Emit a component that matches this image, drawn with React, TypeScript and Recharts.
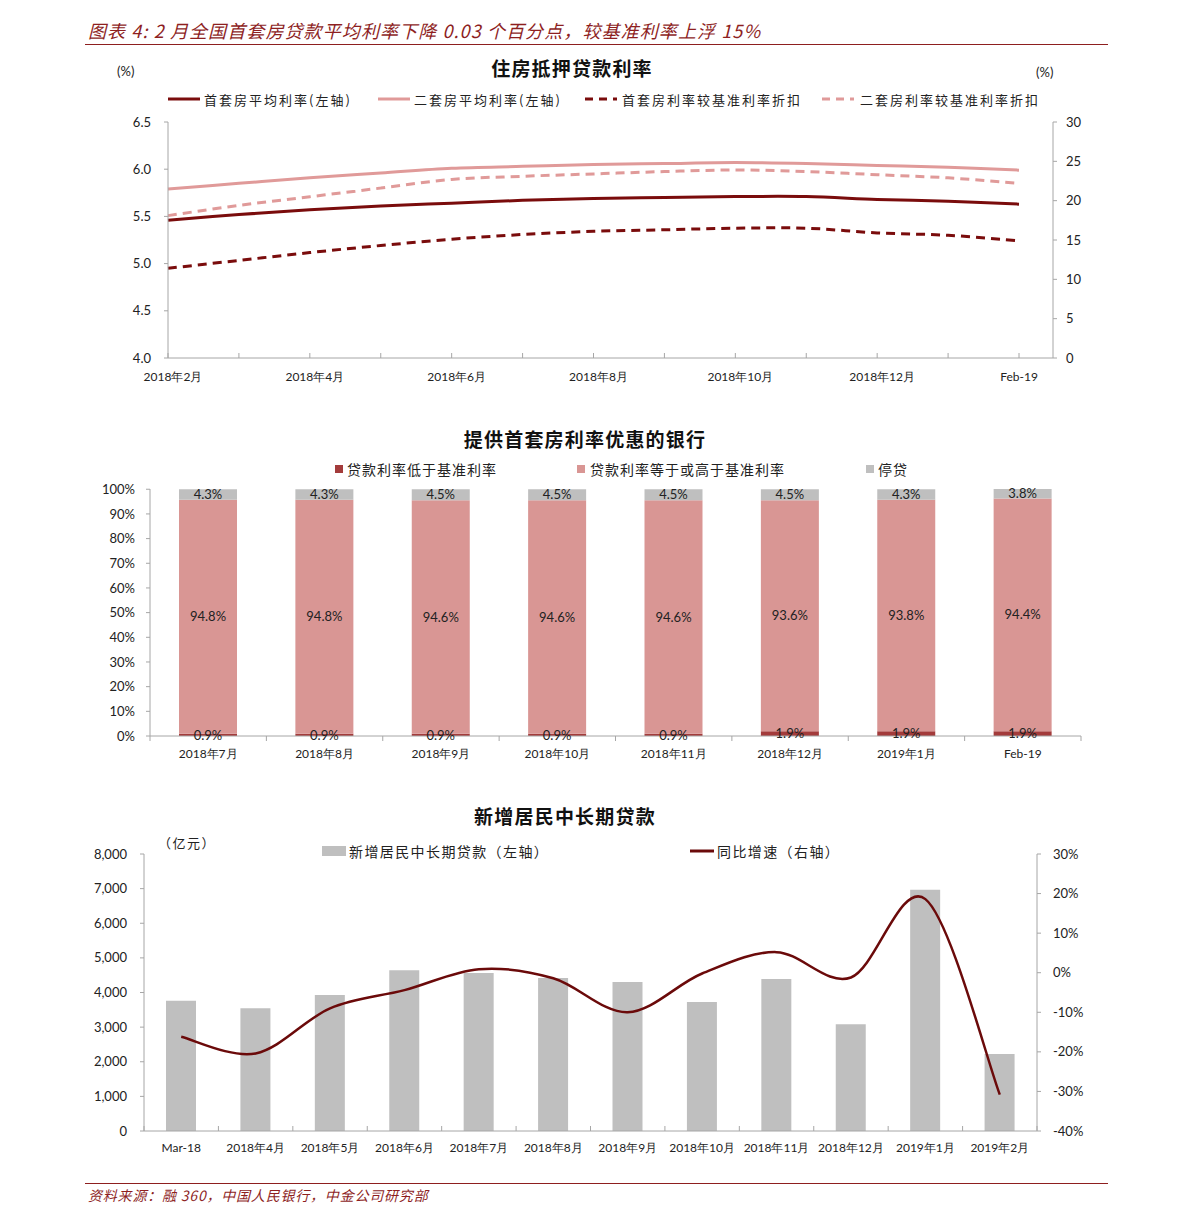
import React from 'react'
import { ComposedChart, Line, Bar, XAxis, YAxis, LabelList } from 'recharts'

// 住房抵押贷款利率
const rateMonths = ['2018年2月', '2018年3月', '2018年4月', '2018年5月', '2018年6月', '2018年7月', '2018年8月', '2018年9月', '2018年10月', '2018年11月', '2018年12月', '2019年1月', 'Feb-19']
const firstAvg = [5.46, 5.52, 5.57, 5.61, 5.64, 5.67, 5.69, 5.70, 5.71, 5.71, 5.68, 5.66, 5.63]
const secondAvg = [5.79, 5.85, 5.91, 5.96, 6.01, 6.03, 6.05, 6.06, 6.07, 6.06, 6.04, 6.02, 5.99]
const firstDisc = [11.4, 12.4, 13.4, 14.3, 15.1, 15.7, 16.1, 16.3, 16.5, 16.5, 15.9, 15.6, 14.9]
const secondDisc = [18.1, 19.4, 20.5, 21.6, 22.7, 23.1, 23.4, 23.7, 23.9, 23.7, 23.3, 22.9, 22.2]
const rateLeftTicks = [4.0, 4.5, 5.0, 5.5, 6.0, 6.5]
const rateRightTicks = [0, 5, 10, 15, 20, 25, 30]

// 提供首套房利率优惠的银行
const bankMonths = ['2018年7月', '2018年8月', '2018年9月', '2018年10月', '2018年11月', '2018年12月', '2019年1月', 'Feb-19']
const belowBase = [0.9, 0.9, 0.9, 0.9, 0.9, 1.9, 1.9, 1.9]
const atOrAbove = [94.8, 94.8, 94.6, 94.6, 94.6, 93.6, 93.8, 94.4]
const suspended = [4.3, 4.3, 4.5, 4.5, 4.5, 4.5, 4.3, 3.8]
const pctTicks = [0, 10, 20, 30, 40, 50, 60, 70, 80, 90, 100]

// 新增居民中长期贷款
const loanMonths = ['Mar-18', '2018年4月', '2018年5月', '2018年6月', '2018年7月', '2018年8月', '2018年9月', '2018年10月', '2018年11月', '2018年12月', '2019年1月', '2019年2月']
const newLoans = [3760, 3545, 3930, 4640, 4565, 4420, 4305, 3725, 4390, 3080, 6970, 2225]
const loanYoY = [-16.2, -20.4, -9.0, -4.4, 0.9, -1.4, -10.0, -0.2, 5.2, -1.2, 18.6, -30.8]
const loanLeftTicks = [0, 1000, 2000, 3000, 4000, 5000, 6000, 7000, 8000]
const loanRightTicks = [-40, -30, -20, -10, 0, 10, 20, 30]

const rateData = rateMonths.map((m, i) => ({ m, firstAvg: firstAvg[i], secondAvg: secondAvg[i], firstDisc: firstDisc[i], secondDisc: secondDisc[i] }))
const bankData = bankMonths.map((m, i) => ({ m, below: belowBase[i], above: atOrAbove[i], stop: suspended[i] }))
const loanData = loanMonths.map((m, i) => ({ m, loans: newLoans[i], yoy: loanYoY[i] }))

const DARK = '#7a0c0c'
const LIGHT = '#e09a99'
const AXIS = '#a6a6a6'
const MAROON = '#8e1f1f'
const NUM_FONT = 'Lato, "Liberation Sans", sans-serif'
const CJK_FONT = '"Noto Sans CJK SC", "Noto Sans", sans-serif'

// Excel-like smoothed line (cardinal spline through the points)
function smoothCurve(context: any) {
    let pts: [number, number][] = []
    return {
        areaStart() {},
        areaEnd() {},
        lineStart() { pts = [] },
        lineEnd() {
            if (!pts.length) return
            context.moveTo(pts[0][0], pts[0][1])
            for (let i = 0; i < pts.length - 1; i++) {
                const p0 = pts[i - 1] || pts[i]
                const p1 = pts[i]
                const p2 = pts[i + 1]
                const p3 = pts[i + 2] || p2
                context.bezierCurveTo(
                    p1[0] + (p2[0] - p0[0]) / 6, p1[1] + (p2[1] - p0[1]) / 6,
                    p2[0] - (p3[0] - p1[0]) / 6, p2[1] - (p3[1] - p1[1]) / 6,
                    p2[0], p2[1],
                )
            }
        },
        point(x: number, y: number) { pts.push([x, y]) },
    }
}

function Txt({ x, y, children, center, size = 13, bold, italic, color = '#222', font = CJK_FONT, ls = 0 }: any) {
    return (
        <div style={{
            position: 'absolute', left: x, top: y, transform: `translate(${center ? '-50%' : '0'}, -50%)`,
            fontSize: size, fontWeight: bold ? 700 : 400, fontStyle: italic ? 'italic' : 'normal',
            color, fontFamily: font, whiteSpace: 'nowrap', lineHeight: 1, letterSpacing: ls,
        }}>{children}</div>
    )
}

function LineKey({ x, y, color, dashed, w = 32 }: any) {
    return (
        <svg style={{ position: 'absolute', left: x, top: y - 3 }} width={w} height={6}>
            <line x1={0} y1={3} x2={w} y2={3} stroke={color} strokeWidth={3} strokeDasharray={dashed ? '8 6' : undefined} />
        </svg>
    )
}

function Square({ x, y, color, w = 8, h = 8 }: any) {
    return <div style={{ position: 'absolute', left: x, top: y - h / 2, width: w, height: h, background: color }} />
}

const tickStyle = { fontSize: 13, fill: '#222', fontFamily: NUM_FONT }

// chart 1 x ticks: every month gets an inward tick mark, every other month a label
function RateTick(props: any) {
    const { x, y, payload, index } = props
    return (
        <g>
            <line x1={x} y1={y} x2={x} y2={y - 5} stroke={AXIS} />
            {index % 2 === 0 && (
                <text x={index === 12 ? x : x + 5} y={y} dy={23} textAnchor="middle" fontSize={12} fill="#222" fontFamily={NUM_FONT}>{payload.value}</text>
            )}
        </g>
    )
}

function makeBandTick(half: number, count: number, dy: number, up: boolean) {
    return function BandTick(props: any) {
        const { x, y, payload, index } = props
        const y2 = up ? y - 5 : y + 5
        return (
            <g>
                <line x1={x - half} y1={y} x2={x - half} y2={y2} stroke={AXIS} />
                {index === count - 1 && <line x1={x + half} y1={y} x2={x + half} y2={y2} stroke={AXIS} />}
                <text x={x} y={y} dy={dy} textAnchor="middle" fontSize={12} fill="#222" fontFamily={NUM_FONT}>{payload.value}</text>
            </g>
        )
    }
}

const BankTick = makeBandTick(931 / 16, bankMonths.length, 22, false)
const LoanTick = makeBandTick(893 / 24, loanMonths.length, 21, true)

const pctLabel = (v: any) => `${Number(v).toFixed(1)}%`

export default function App() {
    return (
        <div style={{ position: 'absolute', left: 0, top: 0, width: 1191, height: 1225, background: '#fff', overflow: 'hidden' }}>
            {/* header */}
            <Txt x={88} y={30} size={18} italic color={MAROON} ls={1.1}>图表 4: 2 月全国首套房贷款平均利率下降 0.03 个百分点，较基准利率上浮 15%</Txt>
            <div style={{ position: 'absolute', left: 85, top: 44, width: 1023, height: 1, background: MAROON }} />

            {/* chart 1 */}
            <Txt x={572} y={67} size={19} bold center color="#111" ls={1.2}>住房抵押贷款利率</Txt>
            <Txt x={117} y={71} size={13} font={NUM_FONT}>(%)</Txt>
            <Txt x={1036} y={72} size={13} font={NUM_FONT}>(%)</Txt>
            <LineKey x={168} y={99} color={DARK} />
            <Txt x={204} y={99} size={13} ls={2}>首套房平均利率(左轴)</Txt>
            <LineKey x={378} y={99} color={LIGHT} />
            <Txt x={414} y={99} size={13} ls={2}>二套房平均利率(左轴)</Txt>
            <LineKey x={585} y={99} color={DARK} dashed />
            <Txt x={622} y={99} size={13} ls={2}>首套房利率较基准利率折扣</Txt>
            <LineKey x={822} y={99} color={LIGHT} dashed />
            <Txt x={860} y={99} size={13} ls={2}>二套房利率较基准利率折扣</Txt>
            <div style={{ position: 'absolute', left: 0, top: 110 }}>
                <ComposedChart width={1191} height={300} data={rateData} margin={{ top: 12, right: 0, bottom: 0, left: 0 }}>
                    <XAxis dataKey="m" scale="point" padding={{ left: 0, right: 34 }} height={52} interval={0}
                        tickLine={false} tickSize={0} tickMargin={0} axisLine={{ stroke: AXIS }} tick={<RateTick />} />
                    <YAxis yAxisId="l" width={168} domain={[4, 6.5]} ticks={rateLeftTicks} tickFormatter={(v: number) => v.toFixed(1)}
                        tick={tickStyle} tickSize={4} tickMargin={13} axisLine={{ stroke: AXIS }} tickLine={{ stroke: AXIS }} />
                    <YAxis yAxisId="r" orientation="right" width={138} domain={[0, 30]} ticks={rateRightTicks}
                        tick={tickStyle} tickSize={4} tickMargin={9} axisLine={{ stroke: AXIS }} tickLine={{ stroke: AXIS }} />
                    <Line yAxisId="r" dataKey="secondDisc" type={smoothCurve as any} stroke={LIGHT} strokeWidth={3} strokeDasharray="9 6" dot={false} isAnimationActive={false} />
                    <Line yAxisId="r" dataKey="firstDisc" type={smoothCurve as any} stroke={DARK} strokeWidth={3} strokeDasharray="9 6" dot={false} isAnimationActive={false} />
                    <Line yAxisId="l" dataKey="secondAvg" type={smoothCurve as any} stroke={LIGHT} strokeWidth={3} dot={false} isAnimationActive={false} />
                    <Line yAxisId="l" dataKey="firstAvg" type={smoothCurve as any} stroke={DARK} strokeWidth={3} dot={false} isAnimationActive={false} />
                </ComposedChart>
            </div>

            {/* chart 2 */}
            <Txt x={585} y={438} size={19} bold center color="#111" ls={1.2}>提供首套房利率优惠的银行</Txt>
            <Square x={335} y={469} color="#a33b3b" />
            <Txt x={347} y={469} size={14} ls={1}>贷款利率低于基准利率</Txt>
            <Square x={577} y={469} color="#d99694" />
            <Txt x={590} y={469} size={14} ls={1}>贷款利率等于或高于基准利率</Txt>
            <Square x={866} y={469} color="#bfbfbf" />
            <Txt x={878} y={469} size={14} ls={1}>停贷</Txt>
            <div style={{ position: 'absolute', left: 0, top: 479 }}>
                <ComposedChart width={1191} height={310} data={bankData} margin={{ top: 10, right: 110, bottom: 0, left: 0 }}>
                    <XAxis dataKey="m" height={53} interval={0} tickLine={false} tickSize={0} tickMargin={0}
                        axisLine={{ stroke: AXIS }} tick={<BankTick />} />
                    <YAxis width={150} domain={[0, 100]} ticks={pctTicks} tickFormatter={(v: number) => `${v}%`}
                        tick={tickStyle} tickSize={4} tickMargin={11} axisLine={{ stroke: AXIS }} tickLine={{ stroke: AXIS }} />
                    <Bar dataKey="below" stackId="a" fill="#a33b3b" barSize={58} isAnimationActive={false}>
                        <LabelList dataKey="below" position="center" formatter={pctLabel} style={{ fontSize: 13, fill: '#222', fontFamily: NUM_FONT }} />
                    </Bar>
                    <Bar dataKey="above" stackId="a" fill="#d99694" barSize={58} isAnimationActive={false}>
                        <LabelList dataKey="above" position="center" formatter={pctLabel} style={{ fontSize: 13, fill: '#222', fontFamily: NUM_FONT }} />
                    </Bar>
                    <Bar dataKey="stop" stackId="a" fill="#bfbfbf" barSize={58} isAnimationActive={false}>
                        <LabelList dataKey="stop" position="center" formatter={pctLabel} style={{ fontSize: 13, fill: '#222', fontFamily: NUM_FONT }} />
                    </Bar>
                </ComposedChart>
            </div>

            {/* chart 3 */}
            <Txt x={565} y={815} size={19} bold center color="#111" ls={1.2}>新增居民中长期贷款</Txt>
            <Txt x={158} y={842} size={13} ls={1.5}>（亿元）</Txt>
            <Square x={322} y={851} color="#bfbfbf" w={24} h={10} />
            <Txt x={349} y={851} size={14} ls={1.4}>新增居民中长期贷款（左轴）</Txt>
            <LineKey x={690} y={851} color="#6b0a0a" w={24} />
            <Txt x={717} y={851} size={14} ls={1.4}>同比增速（右轴）</Txt>
            <div style={{ position: 'absolute', left: 0, top: 844 }}>
                <ComposedChart width={1191} height={330} data={loanData} margin={{ top: 10, right: 0, bottom: 0, left: 0 }}>
                    <XAxis dataKey="m" height={43} interval={0} tickLine={false} tickSize={0} tickMargin={0}
                        axisLine={{ stroke: AXIS }} tick={<LoanTick />} />
                    <YAxis yAxisId="l" width={144} domain={[0, 8000]} ticks={loanLeftTicks} tickFormatter={(v: number) => v.toLocaleString('en-US')}
                        tick={tickStyle} tickSize={4} tickMargin={13} axisLine={{ stroke: AXIS }} tickLine={{ stroke: AXIS }} />
                    <YAxis yAxisId="r" orientation="right" width={154} domain={[-40, 30]} ticks={loanRightTicks} tickFormatter={(v: number) => `${v}%`}
                        tick={tickStyle} tickSize={4} tickMargin={12} axisLine={{ stroke: AXIS }} tickLine={{ stroke: AXIS }} />
                    <Bar yAxisId="l" dataKey="loans" fill="#bfbfbf" barSize={30} isAnimationActive={false} />
                    <Line yAxisId="r" dataKey="yoy" type={smoothCurve as any} stroke="#6b0a0a" strokeWidth={2.5} dot={false} isAnimationActive={false} />
                </ComposedChart>
            </div>

            {/* footer */}
            <div style={{ position: 'absolute', left: 85, top: 1183, width: 1023, height: 1, background: MAROON }} />
            <Txt x={88} y={1195} size={14} italic color={MAROON} ls={0.8}>资料来源：融 360，中国人民银行，中金公司研究部</Txt>
        </div>
    )
}
